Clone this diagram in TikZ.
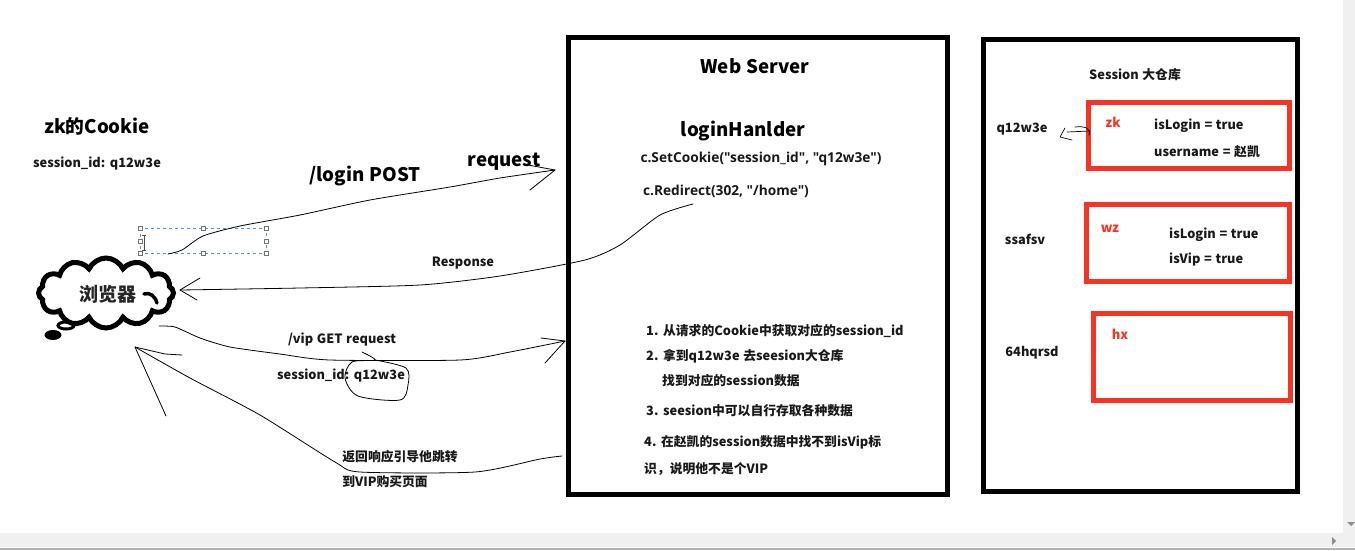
\documentclass[tikz,border=0pt]{standalone}
\usepackage{fontspec}
\setmainfont{Noto Sans CJK SC}[WordSpace=1.25]
\newfontfamily\latinfont{Open Sans}
\usetikzlibrary{positioning,calc,shapes.symbols}

\tikzset{
  bigbox/.style={draw=black,line width=5pt},
  redbox/.style={draw=boxred,line width=5pt},
  sketch/.style={draw=black,line width=0.8pt,line join=round,line cap=round},
  selhandle/.style={draw=black!55,fill=white,line width=0.5pt,minimum size=4.5pt,inner sep=0pt},
  txt/.style={font=\fontsize{12.8pt}{14pt}\bfseries,inner sep=0pt,text=black!90,yshift=-0.8pt},
  ltxt/.style={txt,anchor=west},
  bigtxt/.style={font=\fontsize{18.7pt}{20pt}\bfseries,inner sep=0pt,text=black,yshift=-0.8pt},
  redtxt/.style={font=\fontsize{13pt}{14pt}\bfseries,inner sep=0pt,text=boxred,yshift=-0.8pt},
  codetxt/.style={font=\latinfont\fontsize{13.7pt}{14pt}\bfseries,inner sep=0pt,text=black!90},
}
\definecolor{boxred}{HTML}{F93324}
\definecolor{selblue}{HTML}{5B93C7}
\definecolor{barbg}{HTML}{F0F0F0}

\begin{document}
\begin{tikzpicture}[x=1pt,y=-1pt]
  \useasboundingbox (0,0) rectangle (1355,550);
  \fill[white] (0,0) rectangle (1355,550);

  % window scrollbars
  \fill[barbg] (1343,0) rectangle (1355,533);
  \fill[barbg] (0,533) rectangle (1355,547);
  \fill[black!30] (0,548) rectangle (1355,550);
  \fill[black!45] (1332,537) -- (1336,541) -- (1332,545) -- cycle;
  \fill[black!45] (1347,522) -- (1355,522) -- (1351,526) -- cycle;

  % server and store
  \draw[bigbox] (568.5,37.5) rectangle (947.5,494.5);
  \draw[bigbox] (983.5,39.5) rectangle (1297.5,491.5);
  \draw[redbox] (1088.5,102.5) rectangle (1289.5,168.5);
  \draw[redbox] (1086.5,204.5) rectangle (1289.5,281.5);
  \draw[redbox] (1093.5,313.5) rectangle (1290.5,400.5);

  % left side
  \node[bigtxt] (cookietitle) at (97,126) {zk的Cookie};
  \node[txt] (cookieval) at (97,163) {session\_id: q12w3e};

  % text box selection
  \draw[selblue,dashed,line width=0.6pt] (140,228) rectangle (266,253);
  \foreach \hx in {140,203,266}
    \foreach \hy in {228,253}
      \node[selhandle] (handle\hx\hy) at (\hx,\hy) {};
  \node[selhandle] (handlel) at (140,241) {};
  \node[selhandle] (handler) at (266,241) {};
  \draw[black!70,line width=0.7pt] (144,235) -- (144,250) (142,235) -- (146,235) (142,250) -- (146,250);

  % browser cloud
  \node[draw=black,line width=5pt,cloud,cloud puffs=12,cloud puff arc=130,aspect=1.9,
        minimum width=135pt,minimum height=70pt,inner sep=0pt] (browsercloud) at (106,293) {};
  \node[font=\fontsize{19pt}{20pt}\bfseries,inner sep=0pt,text=black!85,yshift=-1pt] (browser) at (108,293) {浏览器};
  \draw[line width=3.5pt,line cap=round] (144,294) .. controls (150,292) and (155,296) .. (157,303);
  \draw[line width=3pt] (66,325.5) ellipse (8pt and 3.5pt);
  \fill (53,335) ellipse (8.5pt and 5pt);

  % labels on the arrows
  \node[bigtxt] (loginlabel) at (365,175) {/login POST};
  \node[bigtxt] (requestlabel) at (504,161) {request};
  \node[txt] (responselabel) at (463,262) {Response};
  \node[txt] (viplabel) at (342,339) {/vip GET request};
  \node[txt] (sessionlabel) at (341,375) {session\_id: q12w3e};
  \node[txt] (returnlabela) at (400,456) {返回响应引导他跳转};
  \node[txt] (returnlabelb) at (385,481) {到VIP购买页面};

  % server text
  \node[bigtxt] (servertitle) at (755,65) {Web Server};
  \node[bigtxt] (handlername) at (743,130) {loginHanlder};
  \node[codetxt] (setcookie) at (761,159) {c.SetCookie("session\_id", "q12w3e")};
  \node[codetxt] (redirect) at (726,191) {c.Redirect(302, "/home")};
  \node[ltxt] (stepa) at (646,330) {1. 从请求的Cookie中获取对应的session\_id};
  \node[ltxt] (stepb) at (646,355) {2. 拿到q12w3e 去seesion大仓库};
  \node[ltxt] (stepbb) at (662,380) {找到对应的session数据};
  \node[ltxt] (stepc) at (646,410) {3. seesion中可以自行存取各种数据};
  \node[ltxt] (stepd) at (644,442) {4. 在赵凯的session数据中找不到isVip标};
  \node[ltxt] (stepdd) at (644,468) {识，说明他不是个VIP};

  % store text
  \node[txt] (storetitle) at (1135,74) {Session 大仓库};
  \node[txt] (ida) at (1022,128) {q12w3e};
  \node[txt] (idb) at (1025,239) {ssafsv};
  \node[txt] (idc) at (1032,352) {64hqrsd};
  \node[redtxt] (zk) at (1113,121) {zk};
  \node[redtxt] (wz) at (1110,228) {wz};
  \node[redtxt] (hx) at (1120,333) {hx};
  \node[ltxt] (zklogin) at (1154,125) {isLogin = true};
  \node[ltxt] (zkname) at (1154,151) {username = 赵凯};
  \node[ltxt] (wzlogin) at (1169,234) {isLogin = true};
  \node[ltxt] (wzvip) at (1169,259) {isVip = true};

  % hand drawn arrows
  \coordinate (loginfrom) at (168,254);
  \coordinate (loginto) at (555,170);
  \draw[sketch] plot[smooth,tension=0.4] coordinates {(loginfrom) (182,250) (203,236) (240,226) (300,215) (370,200) (450,187) (500,178) (loginto)};
  \draw[sketch] (loginto) -- (528,165) (loginto) .. controls (545,178) .. (530,190);

  \coordinate (respfrom) at (693,204);
  \coordinate (respto) at (180,290);
  \draw[sketch] plot[smooth,tension=0.4] coordinates {(respfrom) (660,215) (620,245) (585,260) (500,276) (420,285) (300,288) (respto)};
  \draw[sketch] (respto) -- (200,278) (respto) -- (197,300);

  \coordinate (vipfrom) at (159,326);
  \coordinate (vipto) at (565,341);
  \draw[sketch] plot[smooth,tension=0.4] coordinates {(vipfrom) (175,327) (200,338) (230,347) (280,354) (330,360) (460,360) (510,352) (vipto)};
  \draw[sketch] (vipto) -- (541,338) (vipto) -- (545,363);

  \coordinate (backfrom) at (562,456);
  \coordinate (backto) at (135,347);
  \draw[sketch] plot[smooth,tension=0.4] coordinates {(backfrom) (540,459) (475,472) (360,472) (335,462) (260,415) (190,378) (backto)};
  \draw[sketch] (backto) -- (165,354) -- (182,355) (backto) -- (166,416);

  % ring around the id, small arrow in the store
  \coordinate (ringstart) at (362,352);
  \draw[sketch] plot[smooth,tension=0.5] coordinates {(ringstart) (375,360) (352,362) (345,378) (358,396) (400,400) (408,385) (406,368) (375,360)};
  \coordinate (smallfrom) at (1090,131);
  \coordinate (smallto) at (1060,137);
  \draw[sketch,line width=0.7pt] (smallfrom) -- (1067,132) (1065,128) -- (smallto) -- (1072,140);
  \draw[sketch,line width=0.7pt] (1075,127) .. controls (1085,126) and (1091,128) .. (1089,135);
\end{tikzpicture}
\end{document}
